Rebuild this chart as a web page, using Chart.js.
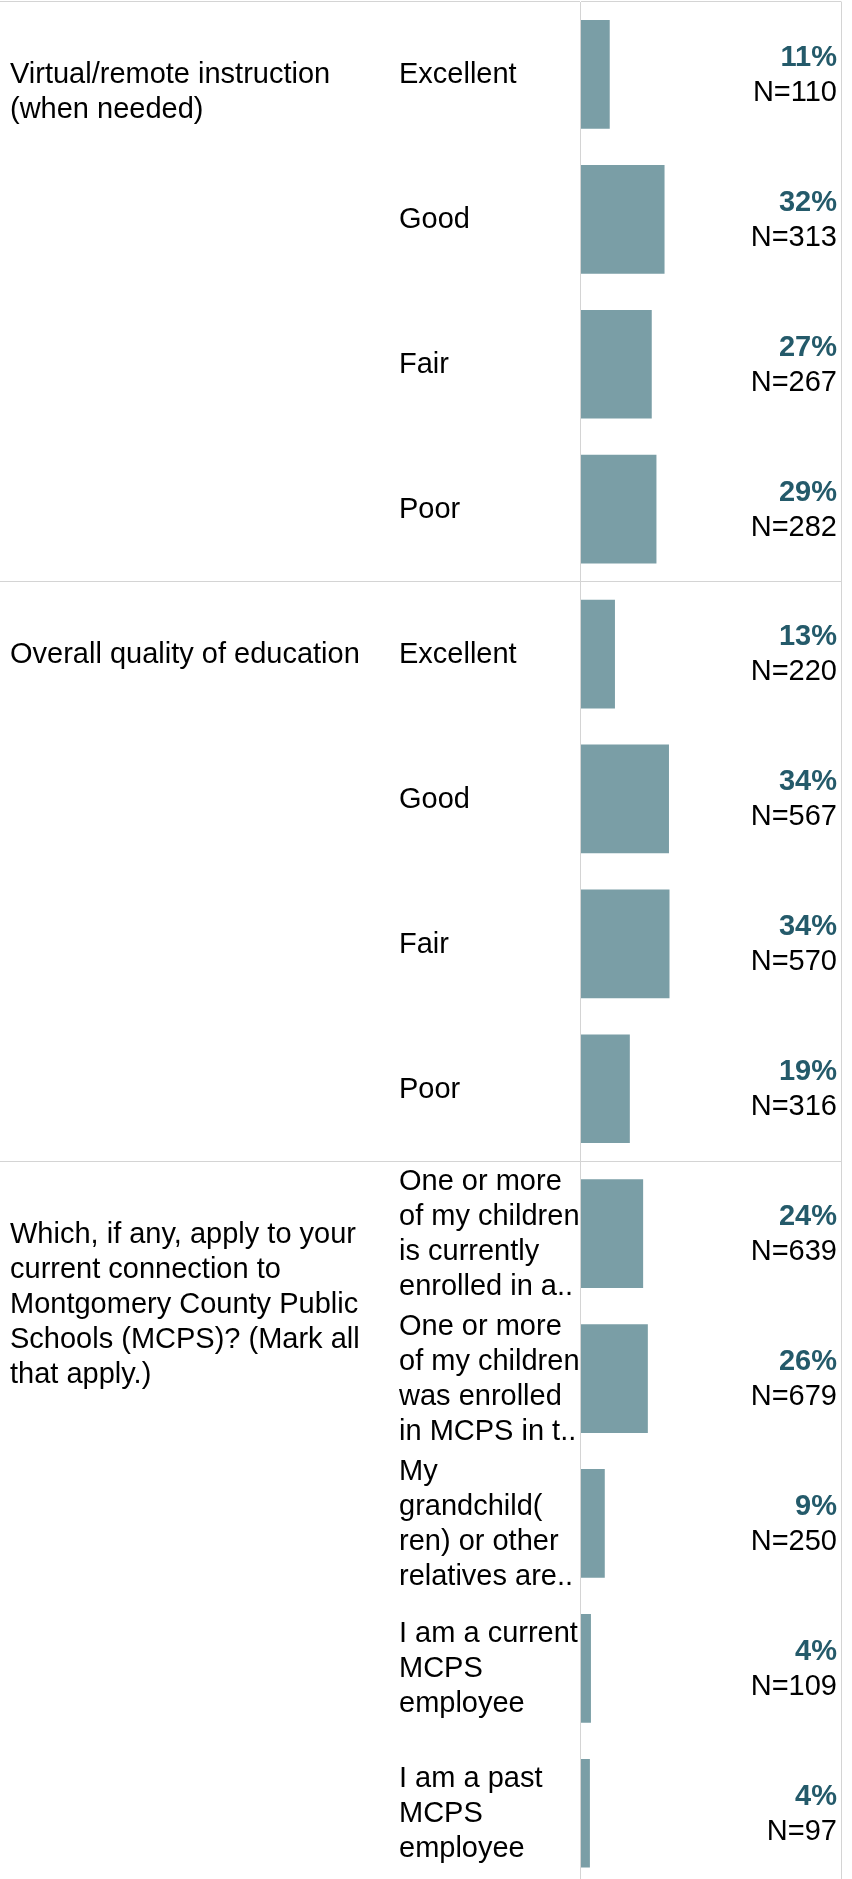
<!DOCTYPE html>
<html><head><meta charset="utf-8">
<script src="https://cdn.jsdelivr.net/npm/chart.js@4/dist/chart.umd.min.js"></script>
<style>html,body{margin:0;padding:0;overflow:hidden;background:#fff}canvas{display:block}</style>
</head><body>
<canvas id="c" width="852" height="1890"></canvas>
<script>
// ---- data ----
const questions = [
  ["Virtual/remote instruction", "(when needed)"],
  ["Overall quality of education"],
  ["Which, if any, apply to your", "current connection to", "Montgomery County Public", "Schools (MCPS)? (Mark all", "that apply.)"]
];
const questionRowCounts = [4, 4, 5];
const categories = [
  "Excellent", "Good", "Fair", "Poor",
  "Excellent", "Good", "Fair", "Poor",
  ["One or more", "of my children", "is currently", "enrolled in a.."],
  ["One or more", "of my children", "was enrolled", "in MCPS in t.."],
  ["My", "grandchild(", "ren) or other", "relatives are.."],
  ["I am a current", "MCPS", "employee"],
  ["I am a past", "MCPS", "employee"]
];
const percentages = [11.2, 32.2, 27.3, 29.1, 13.2, 33.9, 34.1, 18.9, 24.0, 25.8, 9.3, 4.0, 3.6];
const counts = [110, 313, 267, 282, 220, 567, 570, 316, 639, 679, 250, 109, 97];

// ---- style ----
const FONT = "'Liberation Sans', Arial, Helvetica, sans-serif";
const FS = 29;
const LH = 35;
const GRID = '#d4d4d4';
const BAR = '#7a9ea6';
const PCT = '#245a6a';
const NONE = 'rgba(0,0,0,0)';
const TEXT_SHIFT = 0.9;

const sectionStarts = [];
questionRowCounts.reduce((acc, n) => { sectionStarts.push(acc); return acc + n; }, 0);
const dividerIdx = new Set(sectionStarts);

function fixWidth(scale, w) {
  scale.width = w;
  scale.paddingTop = 0; scale.paddingBottom = 0;
  scale.paddingLeft = 0; scale.paddingRight = 0;
}

const labelPlugin = {
  id: 'textLabels',
  afterDatasetsDraw(chart) {
    const ctx = chart.ctx;
    const ys = chart.scales.y;
    const qs = chart.scales.q;
    const meta = chart.getDatasetMeta(0);
    ctx.save();
    ctx.textBaseline = 'middle';
    ctx.textAlign = 'left';
    ctx.fillStyle = '#000';
    ctx.font = `${FS}px ${FONT}`;
    questions.forEach((lines, qi) => {
      const y0 = ys.getPixelForValue(sectionStarts[qi]) + TEXT_SHIFT;
      lines.forEach((line, li) => ctx.fillText(line, qs.left + 10, y0 + li * LH));
    });
    ctx.textAlign = 'right';
    const xr = chart.chartArea.right - 4.5;
    meta.data.forEach((bar, i) => {
      ctx.font = `bold ${FS}px ${FONT}`;
      ctx.fillStyle = PCT;
      ctx.fillText(Math.round(percentages[i]) + '%', xr, bar.y - LH / 2 + TEXT_SHIFT);
      ctx.font = `${FS}px ${FONT}`;
      ctx.fillStyle = '#000';
      ctx.fillText('N=' + counts[i], xr, bar.y + LH / 2 + TEXT_SHIFT);
    });
    ctx.restore();
  }
};

new Chart(document.getElementById('c'), {
  type: 'bar',
  data: {
    labels: categories,
    datasets: [{
      data: percentages,
      backgroundColor: BAR,
      borderWidth: 0,
      barPercentage: 0.75,
      categoryPercentage: 1,
      xAxisID: 'x',
      yAxisID: 'y'
    }]
  },
  options: {
    indexAxis: 'y',
    responsive: false,
    devicePixelRatio: 1,
    animation: false,
    events: [],
    layout: { padding: { left: 0, top: 2, right: 10.5, bottom: 4.3 } },
    plugins: { legend: { display: false }, tooltip: { enabled: false } },
    scales: {
      x: {
        type: 'linear', min: 0, max: 100, position: 'bottom',
        ticks: { display: false, stepSize: 100 },
        border: { display: false },
        grid: { drawTicks: false, lineWidth: 1, color: c => (c.tick && c.tick.value === 100) ? GRID : NONE }
      },
      y: {
        type: 'category', position: 'left', weight: 0, offset: true,
        ticks: { autoSkip: false, crossAlign: 'far', color: '#000', padding: 0, labelOffset: TEXT_SHIFT,
                 font: { family: FONT, size: FS, lineHeight: LH + 'px' } },
        grid: { offset: true, drawTicks: true, tickLength: 181.5, lineWidth: 1,
                color: c => dividerIdx.has(c.index) ? GRID : NONE },
        border: { display: true, color: GRID, width: 1, z: 1 },
        afterFit: s => fixWidth(s, 181.5)
      },
      q: {
        type: 'category', position: 'left', weight: 1, offset: true,
        ticks: { display: false },
        grid: { offset: true, drawOnChartArea: false, drawTicks: true, tickLength: 399, lineWidth: 1,
                color: c => dividerIdx.has(c.index) ? GRID : NONE },
        border: { display: false },
        afterFit: s => fixWidth(s, 399)
      }
    }
  },
  plugins: [labelPlugin]
});
</script>
</body></html>
